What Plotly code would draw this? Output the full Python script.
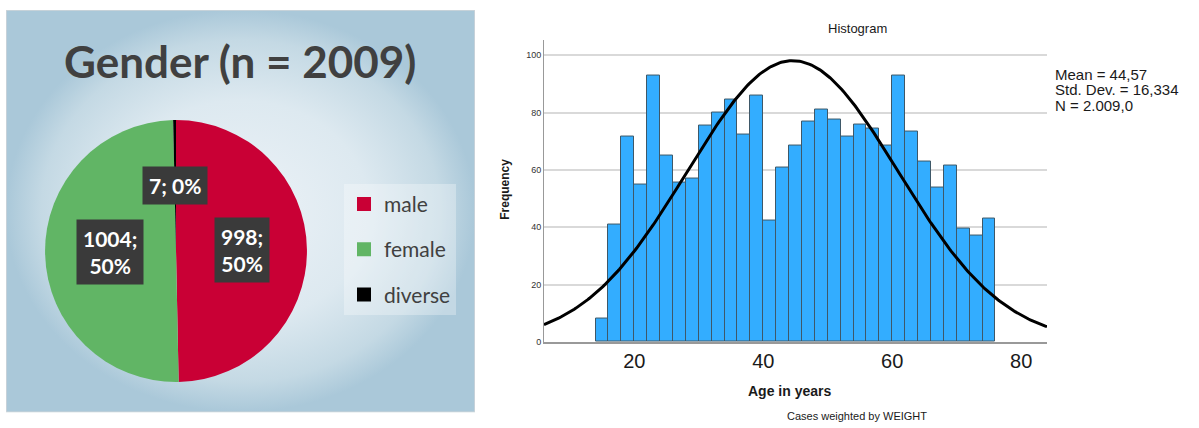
"""Gender pie (left) next to the SPSS-style age histogram with normal curve (right)."""

import math

import numpy as np
import plotly.graph_objects as go

W, H = 1199, 428

# --- data -------------------------------------------------------------------
GENDER_LABELS = ["male", "female", "diverse"]
GENDER_COUNTS = [998, 1004, 7]
GENDER_COLORS = ["#C90035", "#61B565", "#000000"]

AGE_BIN_START = [14, 16, 18, 20, 22, 24, 26, 28, 30, 32, 34, 36, 38, 40, 42, 44,
                 46, 48, 50, 52, 54, 56, 58, 60, 62, 64, 66, 68, 70, 72, 74]
AGE_FREQ = [8, 41, 71.5, 55, 93, 65, 55.5, 57, 75.5, 80, 84.5, 72.5, 86, 42.5, 61, 68.5,
            77, 81, 77.5, 71.5, 76, 74.5, 68.5, 93, 73.5, 63, 54, 61.5, 39.5, 37, 43]
BIN_WIDTH = 2
AGE_MEAN, AGE_SD, AGE_N = 44.57, 16.334, 2009.0
X_TICKS = [20, 40, 60, 80]
Y_TICKS = [0, 20, 40, 60, 80, 100]


def px(x):
    return x / W


def py(y):
    return 1 - y / H


fig = go.Figure()

# --- left panel: gradient card, pie, legend -------------------------------
fig.add_trace(go.Scatter(
    x=[0, 1, 1, 0, 0], y=[0, 0, 1, 1, 0], xaxis="x2", yaxis="y2",
    mode="lines", fill="toself", line={"color": "#cfd5d9", "width": 1.5},
    fillgradient={"type": "radial",
                  "colorscale": [[0, "#ecf2f7"], [0.55, "#dde9f0"],
                                 [0.85, "#c4d9e4"], [1, "#aac8d9"]]},
    hoverinfo="skip", showlegend=False, cliponaxis=False,
))

# pie geometry (pixels) -> domain
cx, cy, r = 176.0, 254.0, 132.5
fig.add_trace(go.Pie(
    labels=GENDER_LABELS, values=GENDER_COUNTS, sort=False, direction="clockwise",
    marker={"colors": GENDER_COLORS, "line": {"width": 0}},
    textinfo="none", hoverinfo="label+value+percent", showlegend=False,
    domain={"x": [px(cx - r), px(cx + r)], "y": [py(cy + r), py(cy - r)]},
))

# legend entries, one group each so the rows can be spaced like the original
for i, (lab, col) in enumerate(zip(GENDER_LABELS, GENDER_COLORS)):
    fig.add_trace(go.Scatter(
        x=[None], y=[None], xaxis="x2", yaxis="y2", mode="markers", name=lab,
        legendgroup=f"g{i}",
        marker={"symbol": "square", "size": 14, "color": col},
    ))

# data labels in dark boxes at half radius on each slice's mid-angle
total = sum(GENDER_COUNTS)
cum = 0
annotations = []
for v in GENDER_COUNTS:
    theta = 2 * math.pi * (cum + v / 2) / total
    cum += v
    lx = cx + 0.5 * r * math.sin(theta)
    ly = cy - 0.5 * r * math.cos(theta)
    share = v / total
    sep = "<br>" if share > 0.05 else " "
    annotations.append(dict(
        x=px(lx), y=py(ly), xref="paper", yref="paper", showarrow=False,
        xanchor="center", yanchor="middle",
        text=f"{v};{sep}{share:.0%}", align="center",
        font={"family": "Lato", "size": 21, "color": "white", "weight": "bold"},
        bgcolor="#3a3a3a", borderpad=6,
    ))

annotations.append(dict(
    x=px(240), y=py(62), xref="paper", yref="paper", showarrow=False,
    xanchor="center", yanchor="middle",
    text="<b>Gender (n = 2009)</b>",
    font={"family": "Lato", "size": 44, "color": "#404040"},
))

# --- right panel: histogram ---------------------------------------------------
bin_centers = [s + BIN_WIDTH / 2 for s in AGE_BIN_START]
fig.add_trace(go.Bar(
    x=bin_centers, y=AGE_FREQ, width=BIN_WIDTH,
    marker={"color": "#33ADFF", "line": {"color": "#3E5868", "width": 1}},
    showlegend=False, hovertemplate="%{x}: %{y}<extra></extra>",
))

xs = np.linspace(6, 84, 300)
ys = AGE_N * BIN_WIDTH / (AGE_SD * math.sqrt(2 * math.pi)) * np.exp(
    -0.5 * ((xs - AGE_MEAN) / AGE_SD) ** 2)
fig.add_trace(go.Scatter(
    x=xs, y=ys, mode="lines", line={"color": "black", "width": 3},
    showlegend=False, hoverinfo="skip",
))

txt = {"family": "Liberation Sans", "color": "#1a1a1a"}
for text, x, y, size, bold in (
    ("Histogram", 857, 29, 13, False),
    ("Age in years", 789, 396, 14, True),
    ("Cases weighted by WEIGHT", 857, 421, 11, False),
):
    annotations.append(dict(
        x=px(x), y=py(y), xref="paper", yref="paper", showarrow=False,
        xanchor="center", yanchor="middle",
        text=f"<b>{text}</b>" if bold else text, font={**txt, "size": size},
    ))
annotations.append(dict(
    x=px(505), y=py(192), xref="paper", yref="paper", showarrow=False,
    xanchor="center", yanchor="middle",
    text="<b>Frequency</b>", textangle=-90, font={**txt, "size": 12},
))
for i, line in enumerate(("Mean = 44,57", "Std. Dev. = 16,334", "N = 2.009,0")):
    annotations.append(dict(
        x=px(1053), y=py(75 + 16 * i), xref="paper", yref="paper", showarrow=False,
        xanchor="left", yanchor="middle", text=line, font={**txt, "size": 15},
    ))

fig.update_layout(
    width=W, height=H,
    margin={"l": 0, "r": 0, "t": 0, "b": 0},
    paper_bgcolor="white", plot_bgcolor="rgba(0,0,0,0)",
    bargap=0,
    annotations=annotations,
    legend={"x": px(344), "y": py(186), "xanchor": "left", "yanchor": "top",
            "bgcolor": "rgba(255,255,255,0.3)", "tracegroupgap": 15,
            "traceorder": "grouped",
            "font": {"family": "Lato", "size": 21, "color": "#404040"}},
    xaxis={"domain": [px(544), px(1047)], "range": [6, 84], "tickvals": X_TICKS,
           "showgrid": False, "zeroline": False, "showline": True,
           "linecolor": "#999999", "linewidth": 2,
           "tickfont": {"family": "Liberation Sans", "size": 20, "color": "#1a1a1a"}},
    yaxis={"domain": [py(346), py(40)], "range": [0, 105.5], "tickvals": Y_TICKS,
           "showgrid": True, "gridcolor": "#d9d9d9", "gridwidth": 1.5,
           "zeroline": False, "showline": True, "linecolor": "#999999",
           "tickfont": {"family": "Liberation Sans", "size": 9, "color": "#333333"}},
    xaxis2={"domain": [px(6), px(475)], "range": [0, 1], "visible": False,
            "fixedrange": True},
    yaxis2={"domain": [py(417), py(10)], "range": [0, 1], "visible": False,
            "fixedrange": True},
)

fig.write_html("out.html", config={"displayModeBar": False},
               post_script="document.body.style.margin='0';")
